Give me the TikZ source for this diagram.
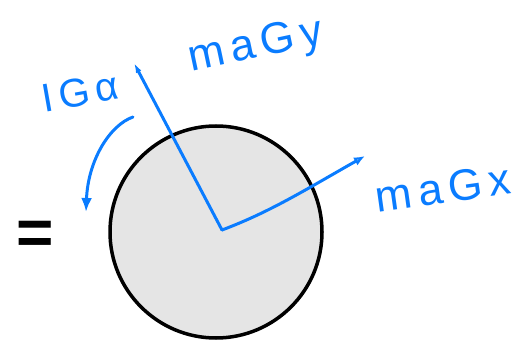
\documentclass[tikz,border=0pt]{standalone}
\usepackage{fontspec}
\setmainfont{Liberation Sans}
\newfontfamily\handfont[LetterSpace=14]{Liberation Sans}
\usetikzlibrary{arrows.meta,positioning}
\definecolor{penBlue}{HTML}{0A7CFF}
\definecolor{diskGray}{HTML}{E5E5E5}

\begin{document}
\begin{tikzpicture}[
  x=1pt, y=-1pt,
  disk/.style={draw=black, line width=3.5pt, fill=diskGray},
  vec/.style={draw=penBlue, line width=3pt, line cap=round},
  lab/.style={text=penBlue, font=\handfont\fontsize{44}{44}\selectfont, inner sep=0pt},
  arr/.style={vec, -{Latex[length=14pt,width=11pt]}},
  oarr/.style={vec, -{Latex[open,length=11pt,width=9pt]}}
]
\useasboundingbox (0,0) rectangle (529,344);
\node[disk, circle, minimum size=212pt, inner sep=0pt] (body) at (216,232) {};
\coordinate (G) at (222,230);
\coordinate (ytip) at (134,63);
\coordinate (xtip) at (365,156);
\coordinate (mstart) at (133,117);
\coordinate (mend) at (86,212);
\node[lab, rotate=12] (may) at (256,47) {maGy};
\node[lab, rotate=8] (max) at (443,188) {maGx};
\node[lab, font=\handfont\fontsize{40}{40}\selectfont, rotate=10] (iga) at (80,92) {IGα};
\node[font=\bfseries\fontsize{64}{64}\selectfont, inner sep=0pt] (eq) at (35,238) {=};
\draw[vec, -{Latex[length=10pt,width=6pt]}] (G) -- (ytip);
\draw[oarr] (G) .. controls (270,212) and (305,190) .. (xtip);
\draw[arr] (mstart) .. controls (110,125) and (88,160) .. (mend);
\end{tikzpicture}
\end{document}
